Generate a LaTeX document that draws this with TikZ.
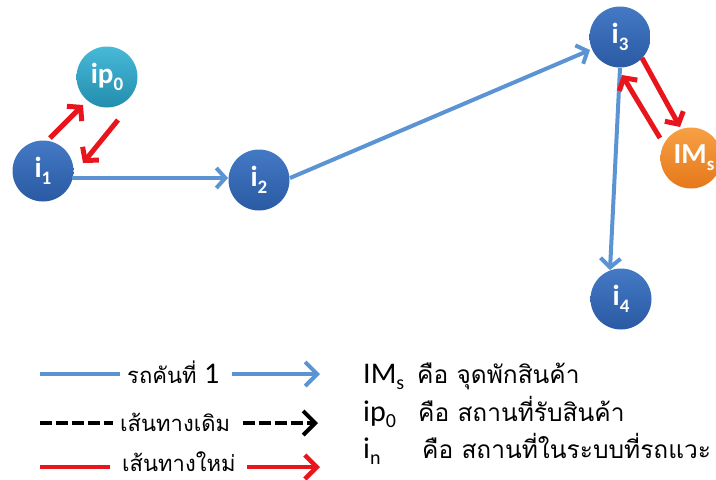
\documentclass[tikz,border=0pt]{standalone}
\usepackage{fontspec}
\setmainfont{Carlito}
\newfontfamily\thaifont[Script=Thai]{Loma}
\usetikzlibrary{arrows.meta,calc}

\definecolor{nodeblueT}{HTML}{4479C4}
\definecolor{nodeblueB}{HTML}{2A5AA3}
\definecolor{tealT}{HTML}{48B9D8}
\definecolor{tealB}{HTML}{238DAE}
\definecolor{orangeT}{HTML}{F7A045}
\definecolor{orangeB}{HTML}{E5781A}
\definecolor{routeblue}{HTML}{5B93D3}
\definecolor{routered}{HTML}{E8161C}

% node caption: bold base letters with a lowered index
\newcommand{\ballcap}[2]{#1\raisebox{-7pt}{\fontsize{19}{19}\selectfont #2}}
% legend symbol with a lowered index
\newcommand{\legsym}[2]{#1\raisebox{-6pt}{\fontsize{20}{20}\selectfont #2}}

\tikzset{
  ball/.style={circle, minimum size=61pt, inner sep=0pt, text=white,
    font=\fontsize{29}{29}\selectfont\bfseries},
  bluenode/.style={ball, top color=nodeblueT, bottom color=nodeblueB},
  tealnode/.style={ball, top color=tealT, bottom color=tealB},
  orangenode/.style={ball, top color=orangeT, bottom color=orangeB},
  bluearrow/.style={draw=routeblue, line width=4pt,
    -{Straight Barb[length=9pt,width=20pt]}},
  redarrow/.style={draw=routered, line width=5pt,
    -{Straight Barb[length=9pt,width=21pt]}},
  blueline/.style={draw=routeblue, line width=4pt},
  redline/.style={draw=routered, line width=4.5pt},
  blackdash/.style={draw=black, line width=4pt, dash pattern=on 12pt off 4pt},
  legtip/.style={-{Straight Barb[length=12pt,width=24pt]}},
  routetext/.style={anchor=base west, inner sep=0pt,
    font=\thaifont\fontsize{22}{22}\selectfont},
  meaningtext/.style={anchor=base west, inner sep=0pt,
    font=\thaifont\fontsize{24.5}{24.5}\selectfont},
  latinlabel/.style={anchor=base west, inner sep=0pt,
    font=\fontsize{30}{30}\selectfont},
}

\begin{document}
\begin{tikzpicture}[x=1pt, y=-1pt]
\useasboundingbox (0,0) rectangle (716,480);
\clip (0,0) rectangle (716,480);

% stations
\node[bluenode]   (i1)  at (43,171)  {\ballcap{i}{1}};
\node[tealnode]   (ip0) at (107,77)  {\ballcap{ip}{0}};
\node[bluenode]   (i2)  at (259,180) {\ballcap{i}{2}};
\node[bluenode]   (i3)  at (620,37)  {\ballcap{i}{3}};
\node[orangenode] (ims) at (691,158) {\hspace*{6pt}\ballcap{IM}{s}};
\node[bluenode]   (i4)  at (621,299) {\ballcap{i}{4}};

% route of vehicle 1
\draw[bluearrow] ($(i1)+(29,7)$) -- ($(i2)+(-31,-2)$);
\draw[bluearrow] ($(i2)+(31,-2)$) -- ($(i3)+(-30,13)$);
\draw[bluearrow] ($(i3)+(0,31)$) -- ($(i4)+(-11,-29)$);

% new detours
\draw[redarrow] ($(i1)+(7,-33)$) -- ($(ip0)+(-24,28)$);
\draw[redarrow] ($(ip0)+(11,43)$) -- ($(i1)+(40,-8)$);
\draw[redarrow] ($(i3)+(22,21)$) -- ($(ims)+(-11,-31)$);
\draw[redarrow] ($(ims)+(-31,-20)$) -- ($(i3)+(2,38)$);

% legend, left column
\coordinate (a1) at (40,374);  \coordinate (b1) at (120,374);
\coordinate (c1) at (232,374); \coordinate (d1) at (320,374);
\coordinate (a2) at (40,423);  \coordinate (b2) at (113,423);
\coordinate (c2) at (243,423); \coordinate (d2) at (318,423);
\coordinate (a3) at (40,467);  \coordinate (b3) at (110,467);
\coordinate (c3) at (247,467); \coordinate (d3) at (320,467);

\draw[blueline] (a1) -- (b1);
\node[routetext] (t1) at (127,383) {รถคันที่ {\fontspec{Carlito}\fontsize{30}{30}\selectfont 1}};
\draw[blueline, legtip] (c1) -- (d1);

\draw[blackdash] (a2) -- (b2);
\node[routetext] (t2) at (120,431) {เส้นทางเดิม};
\draw[blackdash, legtip] (c2) -- (d2);

\draw[redline] (a3) -- (b3);
\node[routetext] (t3) at (122,471) {เส้นทางใหม่};
\draw[redline, legtip] (c3) -- (d3);

% legend, right column
\node[latinlabel]  (k1) at (363,383) {\legsym{IM}{s}};
\node[meaningtext] (m1) at (417,383) {คือ จุดพักสินค้า};
\node[latinlabel]  (k2) at (363,421) {\legsym{ip}{0}};
\node[meaningtext] (m2) at (418,421) {คือ สถานที่รับสินค้า};
\node[latinlabel]  (k3) at (363,458) {\legsym{i}{n}};
\node[meaningtext] (m3) at (422,458) {คือ สถานที่ในระบบที่รถแวะ};
\end{tikzpicture}
\end{document}
